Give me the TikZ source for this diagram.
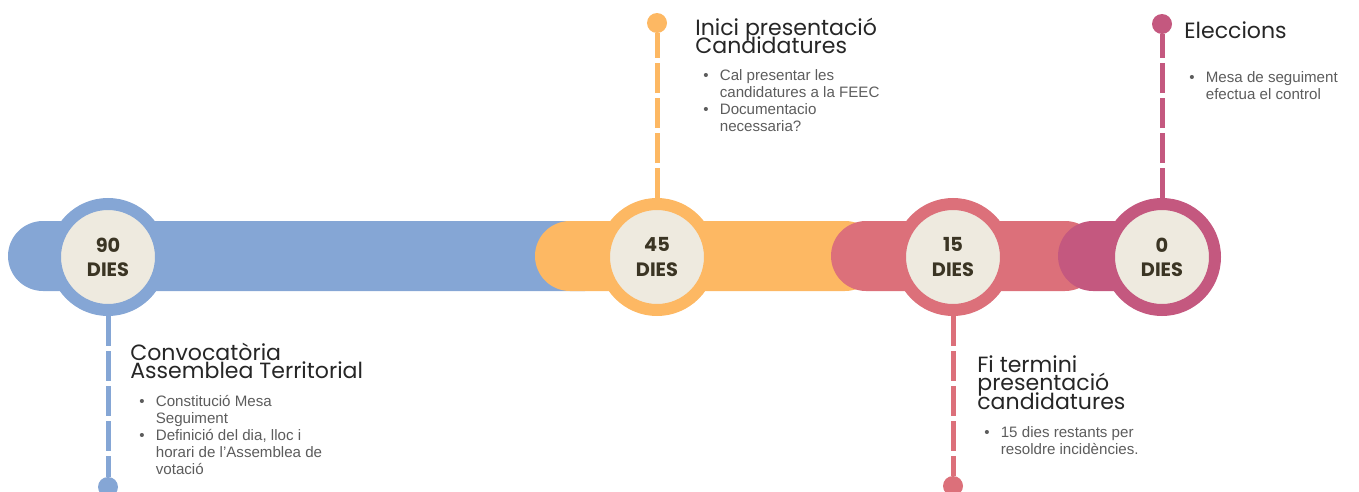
\documentclass[tikz,border=0pt]{standalone}
\usepackage{fontspec}
\setmainfont{Liberation Sans}
\newfontfamily\headfont{Poppins}
\definecolor{blueline}{HTML}{85A6D5}
\definecolor{orangeline}{HTML}{FDB863}
\definecolor{salmonline}{HTML}{DC707A}
\definecolor{berryline}{HTML}{C4587F}
\definecolor{daybg}{HTML}{EEEADF}
\definecolor{daytext}{HTML}{3B3524}
\definecolor{headtext}{HTML}{262626}
\definecolor{itemtext}{HTML}{5C5C5C}
\newcommand{\textlines}[1]{\vtop{\lineskiplimit=-\maxdimen\halign{##\hfil\cr#1\crcr}}}
\newcommand{\itemdot}{\makebox[0.33cm][l]{\textbullet}}
\newcommand{\itemgap}{\hspace*{0.33cm}}
\tikzset{
	dayring/.style={circle, minimum size=2.12cm, inner sep=0pt, fill=daybg, draw=#1, line width=0.24cm, text=daytext, align=center, font=\headfont\bfseries\fontsize{11}{13.7}\selectfont},
	enddot/.style={circle, minimum size=0.40cm, inner sep=0pt, fill=#1},
	stemline/.style={draw=#1, line width=0.10cm, dash pattern=on 0.6cm off 0.1cm},
	barfill/.style={fill=#1, rounded corners=0.70cm},
	headtxt/.style={anchor=base west, inner sep=0pt, text=headtext, font=\headfont\fontsize{12.55}{10.7}\selectfont},
	itemtxt/.style={anchor=base west, inner sep=0pt, text=itemtext, font=\fontsize{8.6}{9.8}\selectfont}
}
\begin{document}
\begin{tikzpicture}
	\useasboundingbox (0,0) rectangle (27.18,-9.84);
	% bars
	\fill[barfill=blueline] (0.16,-4.42) rectangle (12.40,-5.82);
	\fill[barfill=orangeline] (10.70,-4.42) rectangle (17.60,-5.82);
	\fill[barfill=salmonline] (16.62,-4.42) rectangle (22.00,-5.82);
	\fill[barfill=berryline] (21.16,-4.42) rectangle (23.26,-5.82);
	% day circles
	\node[dayring=blueline] (d90) at (2.16,-5.14) {90\\DIES};
	\node[dayring=orangeline] (d45) at (13.14,-5.14) {45\\DIES};
	\node[dayring=salmonline] (d15) at (19.06,-5.14) {15\\DIES};
	\node[dayring=berryline] (d0) at (23.24,-5.14) {0\\DIES};
	\node[enddot=blueline] (p90) at (2.16,-9.74) {};
	\node[enddot=orangeline] (p45) at (13.14,-0.46) {};
	\node[enddot=salmonline] (p15) at (19.06,-9.72) {};
	\node[enddot=berryline] (p0) at (23.24,-0.48) {};
	\draw[stemline=blueline] (d90) -- (p90);
	\draw[stemline=orangeline] (d45) -- (p45);
	\draw[stemline=salmonline] (d15) -- (p15);
	\draw[stemline=berryline] (d0) -- (p0);
	% texts
	\node[headtxt] (h90) at (2.60,-7.20) {\textlines{Convocatòria\cr Assemblea Territorial}};
	\node[itemtxt] (i90) at (2.78,-8.12) {\textlines{\itemdot Constitució Mesa\cr\itemgap Seguiment\cr\itemdot Definició del dia, lloc i\cr\itemgap horari de l’Assemblea de\cr\itemgap votació}};
	\node[headtxt] (h45) at (13.90,-0.70) {\textlines{Inici presentació\cr Candidatures}};
	\node[itemtxt] (i45) at (14.06,-1.60) {\textlines{\itemdot Cal presentar les\cr\itemgap candidatures a la FEEC\cr\itemdot Documentacio\cr\itemgap necessaria?}};
	\node[headtxt] (h15) at (19.54,-7.44) {\textlines{Fi termini\cr presentació\cr candidatures}};
	\node[itemtxt] (i15) at (19.68,-8.74) {\textlines{\itemdot 15 dies restants per\cr\itemgap resoldre incidències.}};
	\node[headtxt] (h0) at (23.68,-0.76) {Eleccions};
	\node[itemtxt] (i0) at (23.78,-1.64) {\textlines{\itemdot Mesa de seguiment\cr\itemgap efectua el control}};
\end{tikzpicture}
\end{document}
